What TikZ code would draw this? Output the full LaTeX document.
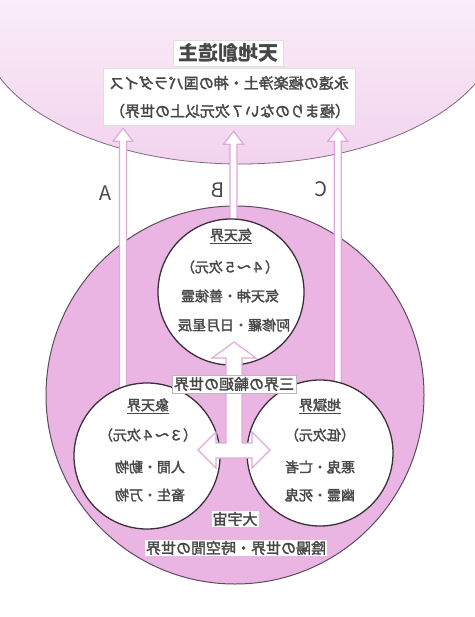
\documentclass[tikz,border=0pt]{standalone}
\usepackage{fontspec}
\newfontfamily\jp{Noto Sans CJK JP}[FakeBold=2]
\newfontfamily\jplatin{Noto Sans CJK JP}
\usetikzlibrary{shapes.geometric,calc}
\pgfdeclarelayer{bg}
\pgfsetlayers{bg,main}
\definecolor{bigpink}{HTML}{EAB5E2}
\definecolor{bigline}{HTML}{5E4C5E}
\definecolor{ellpink}{HTML}{F2D3EE}
\definecolor{ellline}{HTML}{7D6A7D}
\definecolor{arrowpink}{HTML}{E2A8DA}
\definecolor{ink}{HTML}{474747}
\definecolor{ringline}{HTML}{3A3038}
\tikzset{
  mirrortext/.style={xscale=-1, text=ink, inner sep=1pt},
  body/.style={mirrortext, font=\jp\fontsize{14}{16}\selectfont},
  bigtext/.style={mirrortext, font=\jp\fontsize{15}{17}\selectfont},
  lettertext/.style={mirrortext, font=\jplatin\fontsize{20}{22}\selectfont},
  titletext/.style={mirrortext, font=\jplatin\bfseries\fontsize{20}{22}\selectfont},
  realm/.style={circle, draw=ringline, line width=1.3pt, fill=white, inner sep=0pt, minimum size=146pt},
  labelbox/.style={fill=white, draw=gray!55, line width=0.5pt, inner sep=2pt},
  paper/.style={fill=white, draw=gray!25, line width=0.5pt},
  hollow/.style={fill=white, draw=arrowpink, line width=1.2pt, line join=miter},
}
\newcommand\hollowup[2]{%
  \path[hollow] let \p1=(#1), \p2=(#2) in
    (\x1-3.5pt,\y1) -- (\x1-3.5pt,\y2-13pt) -- (\x1-10pt,\y2-13pt) -- (\x1,\y2)
    -- (\x1+10pt,\y2-13pt) -- (\x1+3.5pt,\y2-13pt) -- (\x1+3.5pt,\y1);}
\begin{document}
\begin{tikzpicture}[x=1pt,y=-1pt]
\useasboundingbox (0,0) rectangle (474,617);
\begin{pgfonlayer}{bg}
  \fill[white] (0,0) rectangle (474,617);
  \node[ellipse, minimum width=520pt, minimum height=280pt, inner sep=0pt,
        draw=ellline, line width=0.8pt, top color=white, bottom color=ellpink] (heaven) at (240,24) {};
  \node[circle, minimum size=378pt, inner sep=0pt, draw=bigline, line width=1pt,
        fill=bigpink] (cosmos) at (235,395) {};
\end{pgfonlayer}

% three realms
\node[realm] (tc) at (231,292) {};
\node[realm] (lc) at (147,456) {};
\node[realm] (rc) at (320,453) {};

% top text area
\node[paper, minimum width=110pt, minimum height=26pt] (titlebox) at (228,53) {};
\node[paper, minimum width=252pt, minimum height=57pt] (skybox) at (229,96.5) {};
\node[titletext] (creator) at (228,53) {天地創造主};
\node[bigtext] (paradise) at (229,83) {永遠の極楽浄土・神の国パラダイス};
\node[bigtext] (seven) at (230,111) {（極まりのない７次元以上の世界）};

% connectors A, B, C
\coordinate (startA) at ($(lc.109)+(0,4)$);
\coordinate (startB) at ($(tc.88)+(0,4)$);
\coordinate (startC) at ($(rc.76.5)+(0,4)$);
\coordinate (tipA) at ($(skybox.south -| startA)+(0,3)$);
\coordinate (tipB) at ($(skybox.south -| startB)+(0,6)$);
\coordinate (tipC) at ($(skybox.south -| startC)+(0,3)$);
\begin{pgfonlayer}{bg}
  \hollowup{startA}{tipA}
  \hollowup{startB}{tipB}
  \hollowup{startC}{tipC}
\end{pgfonlayer}
\node[lettertext, fill=white] (la) at (105,193) {A};
\node[lettertext, fill=white] (lb) at (218,190) {B};
\node[lettertext, fill=white] (lcC) at (321,189) {C};

% central double arrow
\coordinate (hub) at (234,450);
\draw[hollow, shift={(hub)}] (0,-108) -- (22,-92) -- (8,-92) -- (8,-7) -- (18,-7) -- (18,-18)
  -- (36,0) -- (18,18) -- (18,8) -- (-18,8) -- (-18,18) -- (-36,0) -- (-18,-18)
  -- (-18,-7) -- (-8,-7) -- (-8,-92) -- (-22,-92) -- cycle;
\node[bigtext, labelbox] (cycle) at (234,384) {三界の輪廻の世界};

% top realm
\node[body] (t1) at (231,236) {\underline{気天界}};
\node[body] (t2) at (230,267) {（４～５次元）};
\node[body] (t3) at (230,296) {気天神・善徳霊};
\node[body] (t4) at (234,325) {阿修羅・日月星辰};
% left realm
\node[body] (l1) at (148,406) {\underline{象天界}};
\node[body] (l2) at (148,435) {（３～４次元）};
\node[body] (l3) at (150,467) {人間・動物};
\node[body] (l4) at (150,495) {畜生・万物};
% right realm
\node[body] (r1) at (320,406) {\underline{地獄界}};
\node[body] (r2) at (320,435) {（低次元）};
\node[body] (r3) at (320,467) {悪鬼・亡者};
\node[body] (r4) at (320,495) {幽霊・死鬼};
% bottom
\node[bigtext, fill=white] (uni) at (235,519) {大宇宙};
\node[bigtext, fill=white] (yinyang) at (236,548) {陰陽の世界・時空間の世界};
\end{tikzpicture}
\end{document}
